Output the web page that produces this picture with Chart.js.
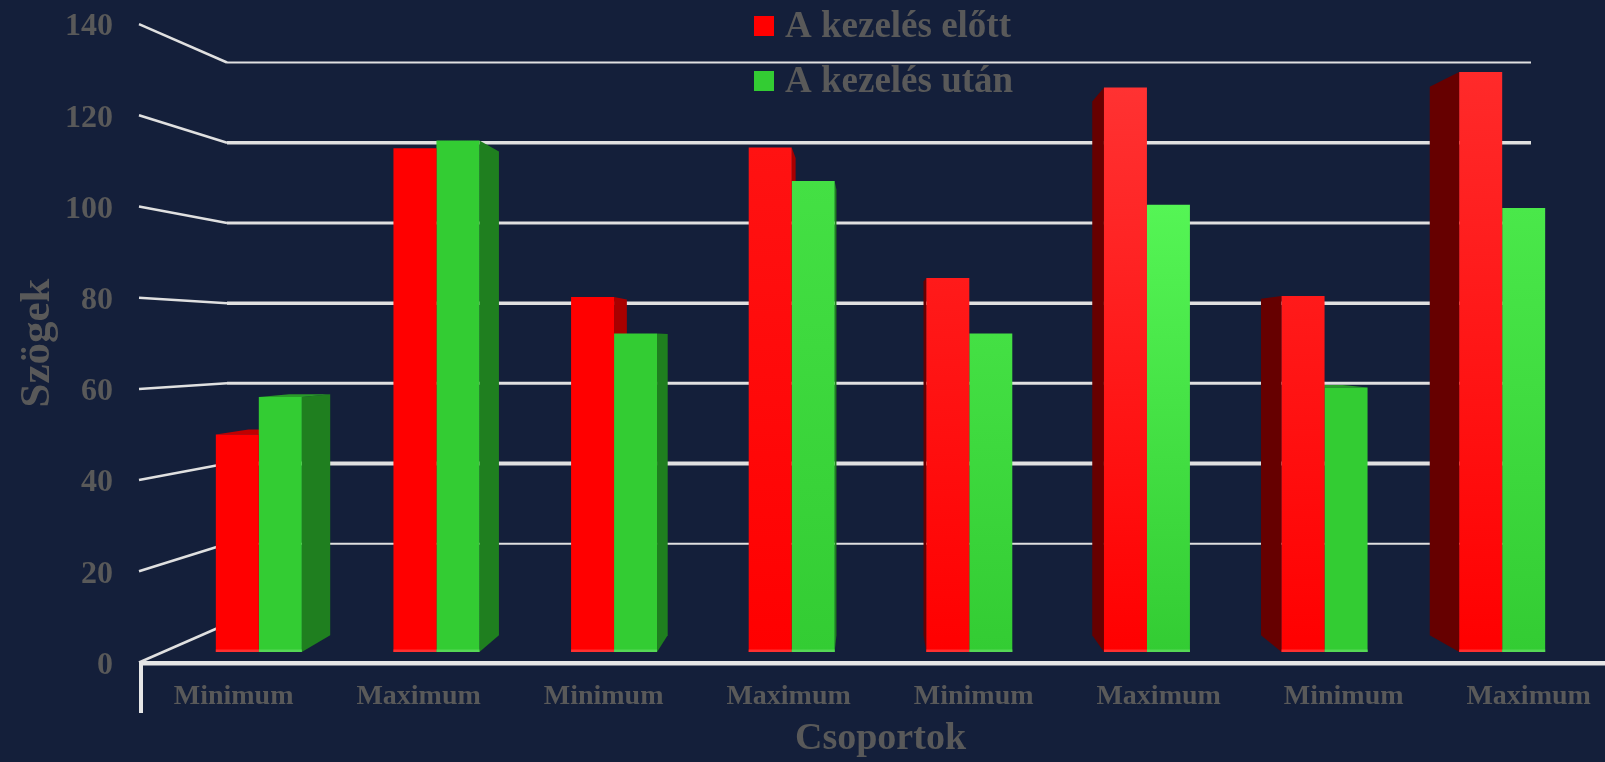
<!DOCTYPE html>
<html>
<head>
  <meta charset="UTF-8">
  <title>Szögek</title>
  <style>
    html, body { margin: 0; padding: 0; background: #141f3a; overflow: hidden; }
    canvas { display: block; }
  </style>
  <script src="https://cdn.jsdelivr.net/npm/chart.js"></script>
</head>
<body>
  <canvas id="chart" width="1605" height="762"></canvas>
  <script>
  const categories = ["Minimum", "Maximum", "Minimum", "Maximum", "Minimum", "Maximum", "Minimum", "Maximum"];
  const beforeValues = [49.3, 114.2, 80.5, 114.4, 84.8, 128, 80.7, 131.5];
  const afterValues = [57.8, 116, 72.2, 106.8, 72.2, 101.4, 60, 100.7];
  const seriesNames = ["A kezelés előtt", "A kezelés után"];
  const valueTicks = [0, 20, 40, 60, 80, 100, 120, 140];

  // lighter top colour of each bar, the lighting differs from bar to bar
  const beforeTops = ["#ff0000", "#ff0000", "#ff0000", "#ff1212", "#ff1a1a", "#ff3232", "#ff1a1a", "#ff2a2a"];
  const afterTops = ["#33cc33", "#33cc33", "#33cc33", "#44e044", "#44e044", "#55f555", "#33cc33", "#4ae84a"];

  const textColor = "#595959";
  const lineColor = "#e0e0e0";
  const font = "'Liberation Serif', serif";

  // fake 3D: bars shrink towards a vanishing column, the wall sits further back
  const vanishX = 870;
  const depthX = 0.05;
  const depthY = 0.6;
  const wallLeft = 227;
  const wallRight = 1531;

  function verticalGradient(ctx, tops, bottom) {
    const chart = ctx.chart;
    if (ctx.type !== "data" || !chart.chartArea) return bottom;
    const g = chart.ctx.createLinearGradient(0, chart.scales.y.getPixelForValue(ctx.parsed.y), 0, chart.scales.y.getPixelForValue(0));
    g.addColorStop(0, tops[ctx.dataIndex]);
    g.addColorStop(1, bottom);
    return g;
  }

  function polygon(c, pts, color) {
    c.fillStyle = color;
    c.beginPath();
    pts.forEach((p, i) => (i ? c.lineTo(p[0], p[1]) : c.moveTo(p[0], p[1])));
    c.closePath();
    c.fill();
  }

  const backX = x => x + (vanishX - x) * depthX;

  const depthPlugin = {
    id: "depth",
    beforeDatasetsDraw(chart) {
      const c = chart.ctx;
      const { y, yNear, yBack } = chart.scales;
      const backY = v => y.getPixelForValue(v) + (yBack.getPixelForValue(v) - y.getPixelForValue(v)) * depthY;

      c.save();
      // wall lines and the slanted lines to the near edge
      c.strokeStyle = lineColor;
      const widths = [3, 2, 4, 3, 3.5, 3, 3.5, 2];
      valueTicks.forEach((v, i) => {
        const wy = yBack.getPixelForValue(v);
        c.lineWidth = 2.5;
        c.beginPath();
        c.moveTo(139, yNear.getPixelForValue(v));
        c.lineTo(wallLeft, wy);
        c.stroke();
        if (v === 0) return;
        c.lineWidth = widths[i];
        c.beginPath();
        c.moveTo(wallLeft, wy);
        c.lineTo(wallRight, wy);
        c.stroke();
      });

      // floor edge of the near plane
      c.fillStyle = "#e6e6e6";
      c.fillRect(139, 661, chart.width - 139, 4.5);
      c.fillRect(139, 661, 4, 52);

      // side and top faces of the bars, the front faces cover what is hidden
      const faces = [
        { left: "#660000", right: "#a80000", top: "#c00000" },
        { left: "#1f7f1f", right: "#1f7f1f", top: "#2a9a2a" }
      ];
      chart.data.datasets.forEach((ds, d) => {
        chart.getDatasetMeta(d).data.forEach((bar, i) => {
          const half = bar.width / 2;
          const x0 = bar.x - half;
          const x1 = bar.x + half;
          const v = ds.data[i];
          const front = y.getPixelForValue(v);
          const edge = x1 < vanishX ? x1 : x0;
          if (x1 < vanishX || x0 > vanishX) {
            polygon(c, [
              [edge, front],
              [backX(edge), backY(v)],
              [backX(edge), backY(0)],
              [edge, y.getPixelForValue(0)]
            ], x1 < vanishX ? faces[d].right : faces[d].left);
          }
          // top face only shows on bars below eye level
          if (backY(v) < front) {
            polygon(c, [
              [x0, front],
              [x1, front],
              [backX(x1), backY(v)],
              [backX(x0), backY(v)]
            ], faces[d].top);
          }
        });
      });
      c.restore();
    },
    afterDatasetsDraw(chart) {
      const c = chart.ctx;
      const base = chart.scales.y.getPixelForValue(0);
      const strips = ["#ff3030", "#55d855"];

      c.save();
      // light strip at the foot of each bar
      chart.data.datasets.forEach((ds, d) => {
        chart.getDatasetMeta(d).data.forEach(bar => {
          c.fillStyle = strips[d];
          c.fillRect(bar.x - bar.width / 2, base - 2.5, bar.width, 2.5);
        });
      });

      // legend sits over the wall, stacked
      const rows = [37, 92];
      c.font = "bold 37px " + font;
      c.textBaseline = "alphabetic";
      c.textAlign = "left";
      chart.data.datasets.forEach((ds, d) => {
        c.fillStyle = ds.borderColor;
        c.fillRect(754, rows[d] - 21, 20, 20);
        c.fillStyle = textColor;
        c.fillText(ds.label, 785, rows[d]);
      });
      c.restore();
    }
  };

  new Chart(document.getElementById("chart").getContext("2d"), {
    type: "bar",
    data: {
      labels: categories,
      datasets: [
        {
          label: seriesNames[0],
          data: beforeValues,
          borderColor: "#ff0000",
          backgroundColor: ctx => verticalGradient(ctx, beforeTops, "#ff0000")
        },
        {
          label: seriesNames[1],
          data: afterValues,
          borderColor: "#33cc33",
          backgroundColor: ctx => verticalGradient(ctx, afterTops, "#33cc33")
        }
      ]
    },
    plugins: [depthPlugin],
    options: {
      responsive: false,
      animation: false,
      categoryPercentage: 0.484,
      barPercentage: 1,
      layout: { padding: { top: 20, right: 14, bottom: 0, left: 0 } },
      plugins: {
        legend: { display: false },
        tooltip: { enabled: false }
      },
      scales: {
        x: { display: false },
        y: { display: false, min: -3.175, max: 143.3 },
        // wall scale, only used for the gridlines
        yBack: { type: "linear", display: false, min: -10.47, max: 150.6 },
        // near plane scale, carries the tick labels
        yNear: {
          type: "linear",
          position: "left",
          min: -0.77,
          max: 140.9,
          afterBuildTicks: scale => { scale.ticks = valueTicks.map(v => ({ value: v })); },
          afterFit: scale => {
            scale.width = 170;
            scale.paddingTop = 0;
            scale.paddingBottom = 0;
          },
          grid: { display: false, drawTicks: false },
          border: { display: false },
          ticks: {
            padding: 57,
            labelOffset: 3,
            color: textColor,
            font: { family: font, size: 32, weight: "bold" }
          },
          title: {
            display: true,
            text: "Szögek",
            color: textColor,
            padding: { top: 12, bottom: 0 },
            font: { family: font, size: 43, weight: "bold" }
          }
        },
        xNear: {
          type: "linear",
          position: "bottom",
          offset: false,
          min: -0.3438,
          max: 7.337,
          afterBuildTicks: scale => { scale.ticks = categories.map((c, i) => ({ value: i })); },
          afterFit: scale => {
            scale.height = 96;
            scale.paddingLeft = 0;
            scale.paddingRight = 0;
          },
          grid: { display: false, drawTicks: false },
          border: { display: false },
          ticks: {
            padding: 14,
            autoSkip: false,
            maxRotation: 0,
            minRotation: 0,
            color: textColor,
            callback: v => categories[v],
            font: { family: font, size: 28, weight: "bold" }
          },
          title: {
            display: true,
            text: "Csoportok",
            color: textColor,
            padding: { top: 7, bottom: 0 },
            font: { family: font, size: 38, weight: "bold" }
          }
        }
      }
    }
  });
  </script>
</body>
</html>
